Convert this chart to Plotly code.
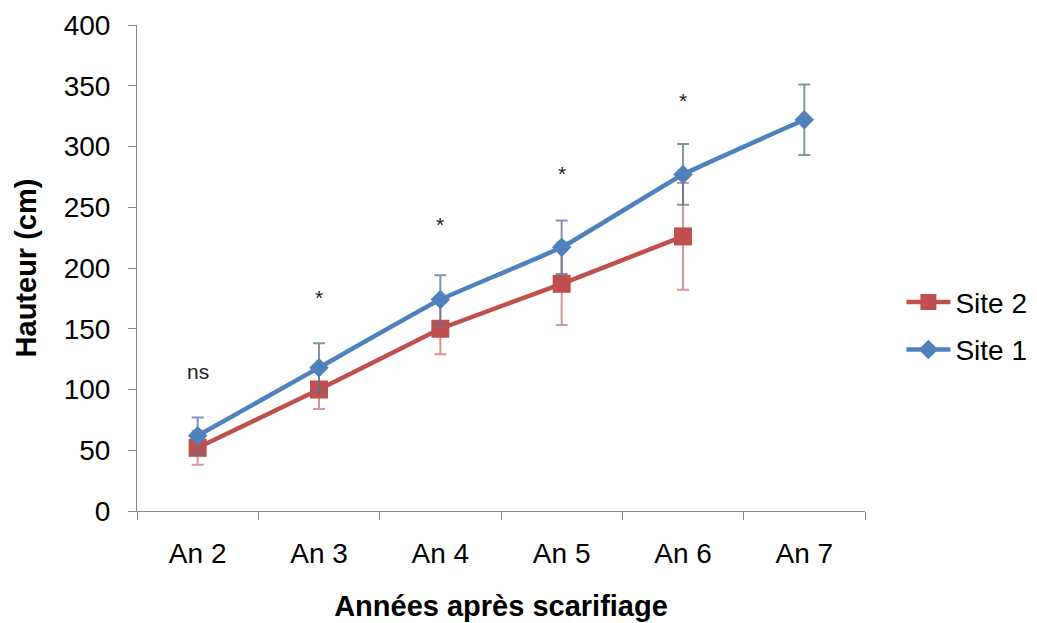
import plotly.graph_objects as go

categories = ["An 2", "An 3", "An 4", "An 5", "An 6", "An 7"]
site1 = [62, 118, 174, 217, 277, 322]
site1_err = [15, 20, 20, 22, 25, 29]
site2_cats = ["An 2", "An 3", "An 4", "An 5", "An 6"]
site2 = [52, 100, 150, 187, 226]
site2_err = [14, 16, 21, 34, 44]
sig_cats = ["An 2", "An 3", "An 4", "An 5", "An 6"]
sig_labels = ["ns", "*", "*", "*", "*"]
sig_y = [115, 176, 236, 278, 338]

FONT = "Liberation Sans, Arial"
fig = go.Figure()
fig.add_trace(go.Scatter(
    x=site2_cats, y=site2, name="Site 2", mode="lines+markers", legendgroup="s2",
    line=dict(color="#C0504D", width=4.5),
    marker=dict(symbol="square", size=18, color="#C0504D"),
    error_y=dict(type="data", array=site2_err, color="rgba(192,80,77,0.6)", thickness=2, width=6),
))
fig.add_trace(go.Scatter(
    x=categories, y=site1, name="Site 1", mode="lines+markers", legendgroup="s1",
    line=dict(color="#4F81BD", width=4.5, shape="spline", smoothing=0.3),
    marker=dict(symbol="diamond", size=15, color="#4F81BD"),
    error_y=dict(type="data", array=site1_err, color="rgba(90,110,145,0.75)", thickness=2, width=6),
))
for c, t, yv in zip(sig_cats, sig_labels, sig_y):
    fig.add_annotation(x=c, y=yv, text=t, showarrow=False,
                       font=dict(family=FONT, size=21, color="#222"))

fig.update_layout(
    width=1029, height=615,
    margin=dict(l=129, r=172, t=17, b=112, autoexpand=False),
    paper_bgcolor="white", plot_bgcolor="white",
    font=dict(family=FONT, size=28, color="#000"),
    showlegend=True,
    legend=dict(x=1.05, y=0.381, xanchor="left", yanchor="middle", font=dict(size=28),
                traceorder="grouped", tracegroupgap=8, itemwidth=44),
    xaxis=dict(type="category", categoryarray=categories, categoryorder="array",
               range=[-0.5, 5.5], showgrid=False, showline=True, linecolor="#888", linewidth=1,
               ticks="outside", tickson="boundaries", ticklen=8, tickcolor="#888",
               tickfont=dict(size=28), ticklabelstandoff=17, automargin=False,
               title=dict(text="<b>Années après scarifiage</b>", font=dict(size=29), standoff=28)),
    yaxis=dict(range=[0, 400], dtick=50, showgrid=False, showline=True, linecolor="#888", linewidth=1,
               ticks="outside", ticklen=8, tickcolor="#888", tickfont=dict(size=28), zeroline=False,
               ticklabelstandoff=12, automargin=False,
               title=dict(text="<b>Hauteur (cm)</b>", font=dict(size=29), standoff=18)),
)
fig.write_html("out.html")
